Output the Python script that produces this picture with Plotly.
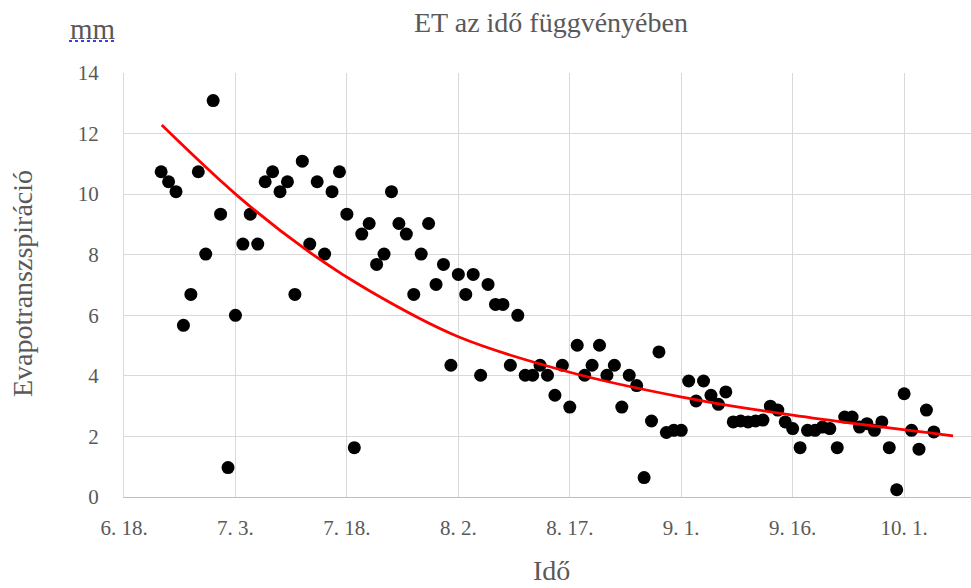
import pandas as pd
import plotly.graph_objects as go

# ---- data ----
start_date = "2018-06-23"
et_values = [
    10.74, 10.41, 10.08, 5.67, 6.69, 10.74, 8.02, 13.09,            # Jun 23-30
    9.34, 0.97, 6.0, 8.35, 9.34, 8.35, 10.41, 10.74, 10.08, 10.41,  # Jul 1-10
    6.69, 11.09, 8.35, 10.41, 8.02, 10.08, 10.74, 9.34, 1.63, 8.68, # Jul 11-20
    9.03, 7.68, 8.02, 10.08, 9.03, 8.68, 6.69, 8.02, 9.03, 7.02, 7.68,  # Jul 21-31
    4.35, 7.35, 6.69, 7.35, 4.02, 7.02, 6.36, 6.36, 4.35, 6.0,      # Aug 1-10
    4.02, 4.02, 4.35, 4.02, 3.36, 4.35, 2.97, 5.01, 4.02, 4.35,     # Aug 11-20
    5.01, 4.02, 4.35, 2.97, 4.02, 3.68, 0.64, 2.51, 4.79, 2.13, 2.2,  # Aug 21-31
    2.2, 3.83, 3.17, 3.83, 3.36, 3.06, 3.47, 2.48, 2.51, 2.48,      # Sep 1-10
    2.51, 2.54, 3.0, 2.87, 2.48, 2.26, 1.63, 2.2, 2.2, 2.31,        # Sep 11-20
    2.26, 1.63, 2.64, 2.64, 2.31, 2.42, 2.2, 2.48, 1.63, 0.24,      # Sep 21-30
    3.41, 2.2, 1.58, 2.87, 2.15,                                    # Oct 1-5
]
dates = pd.date_range(start_date, periods=len(et_values), freq="D")

# trend line
trend_dates = ["2018-06-23 02:00", "2018-07-03 05:00", "2018-07-12 14:00", "2018-07-21 02:00",
               "2018-08-02 00:00", "2018-08-17 00:00", "2018-09-01 02:00", "2018-09-16 00:00",
               "2018-10-07 14:00"]
trend_values = [12.28, 9.96, 8.15, 6.80, 5.29, 4.12, 3.30, 2.70, 2.02]

tick_vals = ["2018-06-18", "2018-07-03", "2018-07-18", "2018-08-02",
             "2018-08-17", "2018-09-01", "2018-09-16", "2018-10-01"]
tick_text = ["6. 18.", "7. 3.", "7. 18.", "8. 2.", "8. 17.", "9. 1.", "9. 16.", "10. 1."]
y_ticks = [0, 2, 4, 6, 8, 10, 12, 14]

title_text = "ET az idő függvényében"
x_title = "Idő"
y_title = "Evapotranszspiráció"
unit_text = "mm"

# ---- layout geometry ----
W, H = 971, 588
L, R, T, B = 124, 0, 73, 91
PW, PH = W - L - R, H - T - B
def px(x):
    return (x - L) / PW
def py(y):
    return (H - B - y) / PH

FONT = "Liberation Serif"
GRAY = "#595959"

fig = go.Figure()
fig.add_trace(go.Scatter(
    x=dates, y=et_values, mode="markers",
    marker=dict(color="black", size=13, line=dict(width=0)),
    showlegend=False,
))
fig.add_trace(go.Scatter(
    x=trend_dates, y=trend_values, mode="lines",
    line=dict(color="#ff0000", width=2.75, shape="spline", smoothing=1.0),
    showlegend=False,
))

fig.update_layout(
    width=W, height=H,
    margin=dict(l=L, r=R, t=T, b=B, pad=0),
    paper_bgcolor="white", plot_bgcolor="white",
    font=dict(family=FONT, color=GRAY, size=21),
    title=dict(text=title_text, x=551 / W, xanchor="center", xref="container",
               y=1 - 22 / H, yanchor="middle", yref="container",
               font=dict(family=FONT, size=28, color=GRAY)),
    xaxis=dict(
        type="date", range=["2018-06-18", "2018-10-10"],
        tickvals=tick_vals, ticktext=tick_text,
        showgrid=True, gridcolor="#d9d9d9", gridwidth=1,
        showline=True, linecolor="#bfbfbf", linewidth=1,
        ticks="", ticklabelstandoff=12,
        tickfont=dict(family=FONT, size=21, color=GRAY),
        zeroline=False,
    ),
    yaxis=dict(
        range=[0, 14], tickvals=y_ticks,
        showgrid=True, gridcolor="#d9d9d9", gridwidth=1,
        showline=True, linecolor="#d9d9d9", linewidth=1,
        ticks="", ticklabelstandoff=20,
        tickfont=dict(family=FONT, size=21, color=GRAY),
        zeroline=False,
    ),
    annotations=[
        dict(text=y_title, textangle=-90, xref="paper", yref="paper",
             x=px(22), y=py(284), xanchor="center", yanchor="middle",
             showarrow=False, font=dict(family=FONT, size=28, color=GRAY)),
        dict(text=x_title, xref="paper", yref="paper",
             x=px(551), y=py(570), xanchor="center", yanchor="middle",
             showarrow=False, font=dict(family=FONT, size=28, color=GRAY)),
        dict(text=unit_text, xref="paper", yref="paper",
             x=px(93), y=py(29), xanchor="center", yanchor="middle",
             showarrow=False, font=dict(family=FONT, size=29, color=GRAY)),
    ],
    shapes=[
        dict(type="line", xref="paper", yref="paper",
             x0=px(69), x1=px(117), y0=py(41), y1=py(41),
             line=dict(color="#3b3bff", width=2, dash="dot")),
    ],
)

fig.write_html("out.html")
